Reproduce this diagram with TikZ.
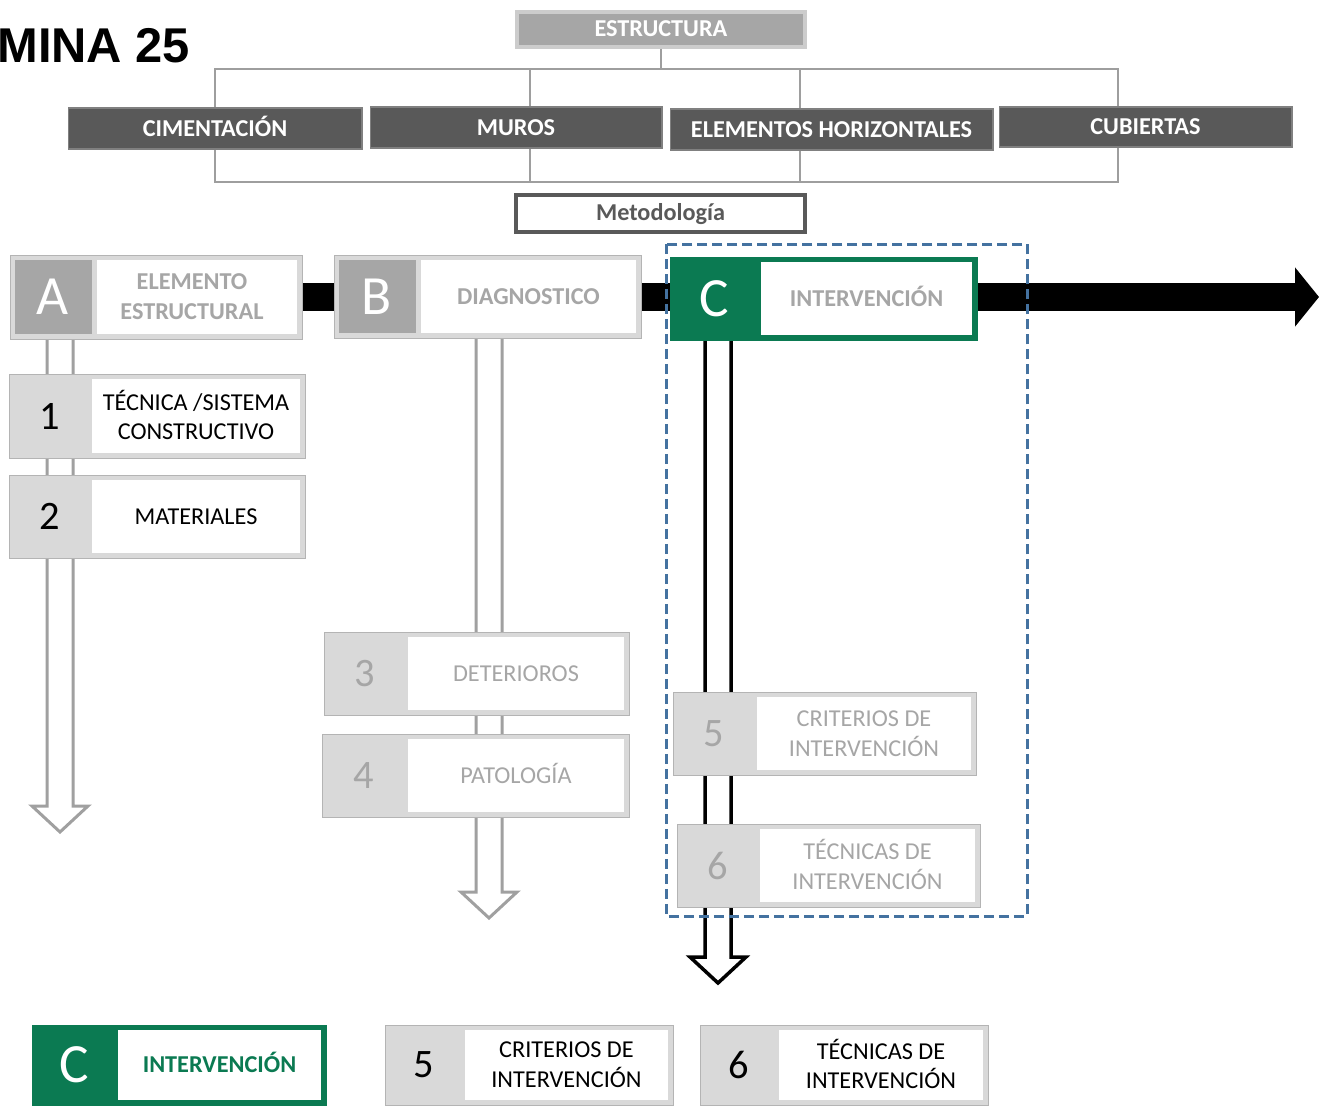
\documentclass[tikz,border=0pt]{standalone}
\usepackage{fontspec}
\setmainfont{Carlito}
\newfontfamily\titlefont{Liberation Sans}
\usetikzlibrary{arrows.meta,calc}

\definecolor{darkbar}{RGB}{89,89,89}
\definecolor{midgrey}{RGB}{166,166,166}
\definecolor{lightgrey}{RGB}{217,217,217}
\definecolor{edgegrey}{RGB}{180,180,180}
\definecolor{treegrey}{RGB}{158,158,158}
\definecolor{arrowgrey}{RGB}{160,160,160}
\definecolor{mygreen}{RGB}{11,122,82}
\definecolor{dashblue}{RGB}{68,114,160}

% framed tag: #1 name, #2 frame style, #3 key fill, #4 x1, #5 y1, #6 x2, #7 y2, #8 split x
\newcommand\tagbox[8]{%
  \node[#2, anchor=north west, minimum width={(#6-#4)*0.02cm},
        minimum height={(#7-#5)*0.02cm}] (#1) at (#4,#5) {};
  \fill[#3] (#4+5,#5+5) rectangle (#8-3,#7-5);
  \fill[white] (#8+2,#5+5) rectangle (#6-5,#7-5);
  \coordinate (#1-k) at ({(#4+#8)/2},{(#5+#7)/2});
  \coordinate (#1-t) at ({(#8+#6-3)/2},{(#5+#7)/2});
}

% hollow downward arrow from #1 to tip #2
\newcommand\hollowarrow[3]{%
  \filldraw[#3] ($(#1)+(-13,0)$) -- ($(#2)+(-13,-26)$) -- ($(#2)+(-28,-26)$)
    -- (#2) -- ($(#2)+(28,-26)$) -- ($(#2)+(13,-26)$) -- ($(#1)+(13,0)$);
}

\begin{document}
\begin{tikzpicture}[x=0.02cm,y=-0.02cm,
  bar/.style={fill=darkbar, draw=gray, line width=0.6pt, inner sep=0pt},
  bartext/.style={text=white, font=\bfseries\fontsize{13.8}{17}\selectfont, inner sep=0pt,
    text height=8.9pt, text depth=0pt},
  tree/.style={treegrey, line width=0.05cm},
  greyframe/.style={fill=lightgrey, draw=edgegrey, line width=0.6pt, inner sep=0pt},
  greenframe/.style={fill=mygreen, draw=mygreen, line width=0.6pt, inner sep=0pt},
  keyglyph/.style={text=white, font=\fontsize{31.5}{32}\selectfont, inner sep=0pt},
  numglyph/.style={font=\fontsize{23}{24}\selectfont, inner sep=0pt},
  lbl/.style={font=\fontsize{13.8}{17}\selectfont, align=center, inner sep=0pt},
  blbl/.style={font=\bfseries\fontsize{13.8}{17}\selectfont, align=center, inner sep=0pt},
  oneline/.style={text height=8.9pt, text depth=0pt},
  greyarrow/.style={draw=arrowgrey, fill=white, line width=0.06cm, line join=miter},
  blackarrow/.style={draw=black, fill=white, line width=0.07cm, line join=miter},
  flow/.style={line width=0.56cm, -{Triangle[width=1.16cm,length=0.48cm]}},
  scope/.style={draw=dashblue, line width=0.06cm, dash pattern=on 0.2cm off 0.1cm}]
\useasboundingbox (0,0) rectangle (1319,1106);

% title
\node[anchor=west, inner sep=0pt, font=\titlefont\bfseries\fontsize{27.8}{30}\selectfont]
  (title) at (-3,46) {MINA 25};

% structure tree
\node[fill=midgrey, draw=lightgrey!85!gray, line width=0.08cm, minimum width=5.76cm,
      minimum height=0.7cm, inner sep=0pt] (estr) at (661,29) {};
\node[bartext] at (estr) {ESTRUCTURA};
\coordinate (tl) at (215,69);
\coordinate (tr) at (1118,69);
\coordinate (bl) at (215,182);
\coordinate (br) at (1118,182);
\draw[tree] (estr.south) -- (estr.south |- tl);
\draw[tree] (tl) -- (tr) -- (br) -- (bl) -- cycle;
\draw[tree] (530,69) -- (530,182);
\draw[tree] (800,69) -- (800,182);

\node[bar, minimum width=5.88cm, minimum height=0.82cm] (cim) at (215,128.5) {};
\node[bartext] at (cim) {CIMENTACIÓN};
\node[bar, minimum width=5.84cm, minimum height=0.82cm] (mur) at (516,127.5) {};
\node[bartext] at (mur) {MUROS};
\node[bar, minimum width=6.46cm, minimum height=0.82cm] (hor) at (831.5,129.5) {};
\node[bartext] at (hor) {ELEMENTOS HORIZONTALES};
\node[bar, minimum width=5.86cm, minimum height=0.80cm] (cub) at (1145.5,127) {};
\node[bartext] at (cub) {CUBIERTAS};

\node[fill=white, draw=darkbar, line width=0.08cm, minimum width=5.78cm,
      minimum height=0.74cm, inner sep=0pt] (met) at (660.5,213.5) {};
\node[bartext, text=darkbar, text depth=2.8pt] at ($(met)+(0,2)$) {Metodología};

% main flow arrow
\coordinate (flowStart) at (300,297);
\coordinate (flowEnd) at (1319,297);
\draw[flow] (flowStart) -- (flowEnd);

% vertical hollow arrows
\coordinate (aOut) at (60,336);
\coordinate (aTip) at (60,832);
\coordinate (bOut) at (489,335);
\coordinate (bTip) at (489,918);
\coordinate (cOut) at (718,337);
\coordinate (cTip) at (718,983);
\hollowarrow{aOut}{aTip}{greyarrow}
\hollowarrow{bOut}{bTip}{greyarrow}
\hollowarrow{cOut}{cTip}{blackarrow}

% phase tags
\tagbox{tA}{greyframe}{midgrey}{10}{255}{302}{339}{95}
\node[keyglyph] (A) at (tA-k) {A};
\node[blbl, text=midgrey] (Atext) at ($(tA-t)+(-5,0)$) {ELEMENTO\\ESTRUCTURAL};

\tagbox{tB}{greyframe}{midgrey}{334}{255}{641}{338}{419}
\node[keyglyph] (B) at (tB-k) {B};
\node[blbl, oneline, text=midgrey] (Btext) at (tB-t) {DIAGNOSTICO};

\tagbox{tC}{greenframe}{mygreen}{670}{257}{977}{340}{759}
\node[keyglyph] (C) at (tC-k) {C};
\node[blbl, oneline, text=midgrey] (Ctext) at (tC-t) {INTERVENCIÓN};

% numbered steps
\tagbox{t1}{greyframe}{lightgrey}{9}{374}{305}{458}{90}
\node[numglyph] (n1) at (t1-k) {1};
\node[lbl] (s1) at ($(t1-t)+(0,-1)$) {TÉCNICA /SISTEMA\\CONSTRUCTIVO};

\tagbox{t2}{greyframe}{lightgrey}{9}{475}{305}{558}{90}
\node[numglyph] (n2) at (t2-k) {2};
\node[lbl, oneline] (s2) at (t2-t) {MATERIALES};

\tagbox{t3}{greyframe}{lightgrey}{324}{632}{629}{715}{406}
\node[numglyph, text=midgrey] (n3) at (t3-k) {3};
\node[lbl, oneline, text=midgrey] (s3) at (t3-t) {DETERIOROS};

\tagbox{t4}{greyframe}{lightgrey}{322}{734}{629}{817}{406}
\node[numglyph, text=midgrey] (n4) at (t4-k) {4};
\node[lbl, oneline, text=midgrey] (s4) at (t4-t) {PATOLOGÍA};

\tagbox{t5}{greyframe}{lightgrey}{673}{692}{976}{775}{755}
\node[numglyph, text=midgrey] (n5) at (t5-k) {5};
\node[lbl, text=midgrey] (s5) at (t5-t) {CRITERIOS DE\\INTERVENCIÓN};

\tagbox{t6}{greyframe}{lightgrey}{677}{824}{980}{907}{758}
\node[numglyph, text=midgrey] (n6) at (t6-k) {6};
\node[lbl, text=midgrey] (s6) at ($(t6-t)+(0,-1)$) {TÉCNICAS DE\\INTERVENCIÓN};

% intervention scope
\draw[scope] (666,244) rectangle (1027,916);

% legend row
\tagbox{lC}{greenframe}{mygreen}{32}{1025}{326}{1105}{116}
\node[keyglyph] (lCk) at (lC-k) {C};
\node[blbl, oneline, text=mygreen] (lCt) at (lC-t) {INTERVENCIÓN};

\tagbox{l5}{greyframe}{lightgrey}{385}{1025}{673}{1105}{463}
\node[numglyph] (l5k) at (l5-k) {5};
\node[lbl] (l5t) at (l5-t) {CRITERIOS DE\\INTERVENCIÓN};

\tagbox{l6}{greyframe}{lightgrey}{700}{1025}{988}{1105}{777}
\node[numglyph] (l6k) at (l6-k) {6};
\node[lbl] (l6t) at ($(l6-t)+(0,-1)$) {TÉCNICAS DE\\INTERVENCIÓN};
\end{tikzpicture}
\end{document}
